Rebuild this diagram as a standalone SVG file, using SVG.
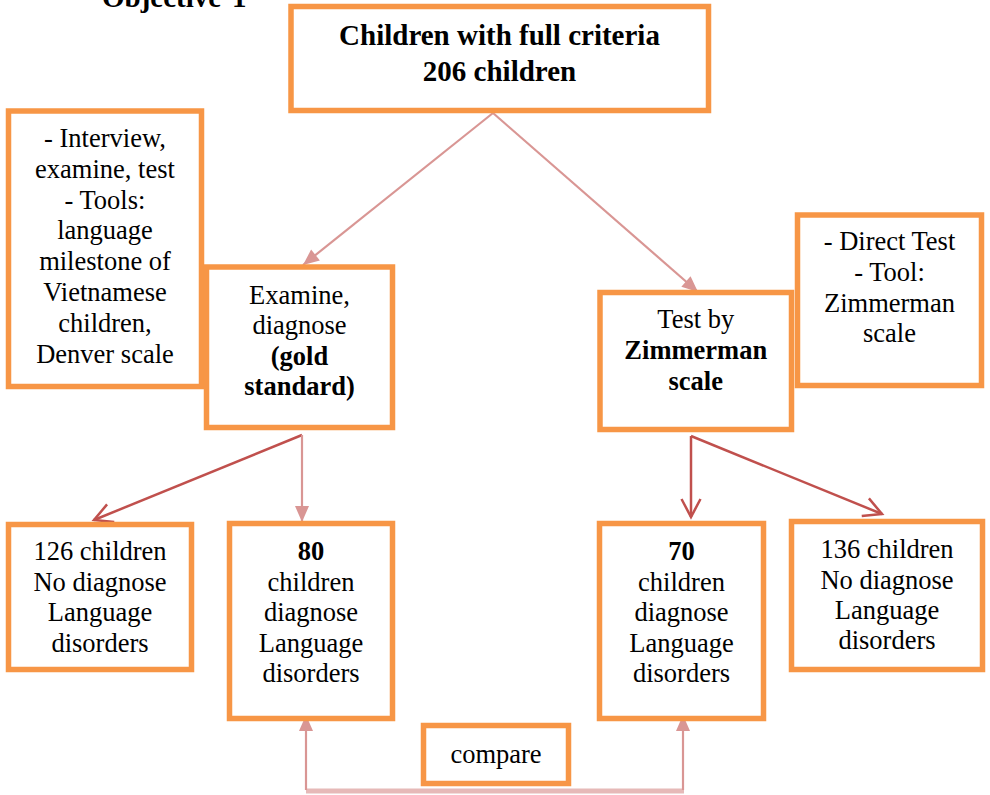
<svg xmlns="http://www.w3.org/2000/svg" width="990" height="795" viewBox="0 0 990 795">
<defs>
<style>
.box{fill:#ffffff;stroke:#f79646;stroke-width:5.5}
.t{font-family:"Liberation Serif","Times New Roman",serif;font-size:26.5px;fill:#000000;text-anchor:middle}
.b{font-weight:bold}
.big{font-size:29px}
.pink{stroke:#d99694;stroke-width:2.2;fill:none}
.red{stroke:#c0504d;stroke-width:2.5;fill:none}
.light{stroke:#e6b9b8;stroke-width:5;fill:none}
</style>
<marker id="fill" markerUnits="userSpaceOnUse" markerWidth="16" markerHeight="14" refX="16" refY="7" orient="auto" overflow="visible">
<path d="M0,0 L16,7 L0,14 z" fill="#d99694"/>
</marker>
<marker id="open" markerUnits="userSpaceOnUse" markerWidth="20" markerHeight="20" refX="18" refY="9.5" orient="auto" overflow="visible">
<path d="M0,0 L18,9.5 L0,19" fill="none" stroke="#c0504d" stroke-width="2.5"/>
</marker>
</defs>
<rect width="990" height="795" fill="#ffffff"/>
<text class="t b big" x="102" y="7" style="text-anchor:start">Objective <tspan x="232">1</tspan></text>
<g id="connectors">
<line class="pink" x1="493" y1="113" x2="303" y2="265" marker-end="url(#fill)"/>
<line class="pink" x1="493" y1="113" x2="698" y2="292" marker-end="url(#fill)"/>
<line class="red" x1="302" y1="435" x2="94" y2="520" marker-end="url(#open)"/>
<line class="pink" x1="302" y1="435" x2="302" y2="522" marker-end="url(#fill)"/>
<line class="red" x1="691" y1="436" x2="691" y2="517" marker-end="url(#open)"/>
<line class="red" x1="691" y1="436" x2="882" y2="514" marker-end="url(#open)"/>
<line class="light" x1="306" y1="791" x2="684" y2="791"/>
<line class="pink" x1="306" y1="790" x2="306" y2="715" marker-end="url(#fill)"/>
<line class="pink" x1="683" y1="790" x2="683" y2="715" marker-end="url(#fill)"/>
</g>
<g id="top">
<rect class="box" x="291" y="6.5" width="417.5" height="104"/>
<text class="t b big" x="499.5" y="45">Children with full criteria</text>
<text class="t b big" x="499.5" y="81">206 children</text>
</g>
<g id="note-left">
<rect class="box" x="8.5" y="111" width="193" height="275.5"/>
<text class="t" x="105" y="147">- Interview,</text>
<text class="t" x="105" y="177.8">examine, test</text>
<text class="t" x="105" y="208.6">- Tools:</text>
<text class="t" x="105" y="239.4">language</text>
<text class="t" x="105" y="270.2">milestone of</text>
<text class="t" x="105" y="301">Vietnamese</text>
<text class="t" x="105" y="331.8">children,</text>
<text class="t" x="105" y="362.6">Denver scale</text>
</g>
<g id="examine">
<rect class="box" x="206.5" y="267" width="186" height="160.5"/>
<text class="t" x="299.5" y="303.5">Examine,</text>
<text class="t" x="299.5" y="334">diagnose</text>
<text class="t b" x="299.5" y="365">(gold</text>
<text class="t b" x="299.5" y="395">standard)</text>
</g>
<g id="zimmerman">
<rect class="box" x="600" y="292.5" width="191.5" height="137"/>
<text class="t" x="695.75" y="328">Test by</text>
<text class="t b" x="695.75" y="359">Zimmerman</text>
<text class="t b" x="695.75" y="390">scale</text>
</g>
<g id="note-right">
<rect class="box" x="797.5" y="215" width="184" height="170.5"/>
<text class="t" x="889.5" y="250">- Direct Test</text>
<text class="t" x="889.5" y="281">- Tool:</text>
<text class="t" x="889.5" y="312">Zimmerman</text>
<text class="t" x="889.5" y="342">scale</text>
</g>
<g id="no126">
<rect class="box" x="8.5" y="524.5" width="183" height="145"/>
<text class="t" x="100" y="560">126 children</text>
<text class="t" x="100" y="591">No diagnose</text>
<text class="t" x="100" y="621">Language</text>
<text class="t" x="100" y="652">disorders</text>
</g>
<g id="yes80">
<rect class="box" x="229.5" y="523.5" width="163" height="195"/>
<text class="t b" x="311" y="560">80</text>
<text class="t" x="311" y="591">children</text>
<text class="t" x="311" y="621">diagnose</text>
<text class="t" x="311" y="652">Language</text>
<text class="t" x="311" y="682">disorders</text>
</g>
<g id="yes70">
<rect class="box" x="599.5" y="523.5" width="164" height="195"/>
<text class="t b" x="681.5" y="560">70</text>
<text class="t" x="681.5" y="591">children</text>
<text class="t" x="681.5" y="621">diagnose</text>
<text class="t" x="681.5" y="652">Language</text>
<text class="t" x="681.5" y="682">disorders</text>
</g>
<g id="no136">
<rect class="box" x="791.5" y="521.5" width="191" height="148"/>
<text class="t" x="887" y="558">136 children</text>
<text class="t" x="887" y="589">No diagnose</text>
<text class="t" x="887" y="619">Language</text>
<text class="t" x="887" y="649">disorders</text>
</g>
<g id="compare">
<rect class="box" x="423.5" y="725.5" width="145" height="58"/>
<text class="t" x="496" y="763">compare</text>
</g>
</svg>
